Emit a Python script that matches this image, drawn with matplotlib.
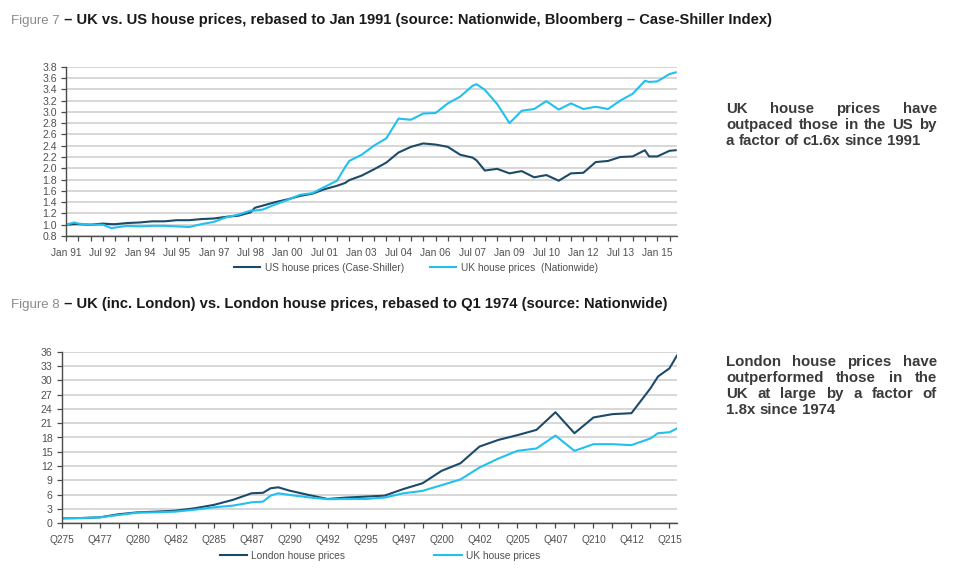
import numpy as np
import pandas as pd
import matplotlib
matplotlib.use('Agg')
import matplotlib.pyplot as plt

plt.rcParams['font.family'] = ['Liberation Sans', 'DejaVu Sans']

# Figure 7 data (rebased to Jan 1991)
us_uk_dates = ['1991-01', '1991-05', '1991-07', '1992-01', '1992-07', '1992-11', '1993-01',
               '1993-07', '1994-01', '1994-07', '1995-01', '1995-07', '1996-01', '1996-07',
               '1997-01', '1997-07', '1998-01', '1998-07', '1998-09', '1999-01', '1999-07',
               '2000-01', '2000-07', '2001-01', '2001-07', '2002-01', '2002-05', '2002-07',
               '2003-01', '2003-07', '2004-01', '2004-07', '2005-01', '2005-07', '2006-01',
               '2006-07', '2007-01', '2007-07', '2007-09', '2008-01', '2008-07', '2009-01',
               '2009-07', '2010-01', '2010-07', '2011-01', '2011-07', '2012-01', '2012-07',
               '2013-01', '2013-07', '2014-01', '2014-07', '2014-09', '2015-01', '2015-07',
               '2015-10']
us_prices = [1.00, 1.01, 1.01, 1.00, 1.02, 1.01, 1.01,
             1.03, 1.04, 1.06, 1.06, 1.08, 1.08, 1.10,
             1.11, 1.14, 1.16, 1.22, 1.30, 1.34, 1.40,
             1.45, 1.51, 1.55, 1.63, 1.69, 1.74, 1.79,
             1.87, 1.98, 2.10, 2.28, 2.38, 2.44, 2.42,
             2.38, 2.24, 2.19, 2.14, 1.96, 1.99, 1.91,
             1.95, 1.84, 1.88, 1.78, 1.91, 1.92, 2.11,
             2.13, 2.20, 2.21, 2.32, 2.21, 2.21, 2.31,
             2.32]
uk_prices = [1.00, 1.04, 1.02, 1.00, 1.00, 0.94, 0.95,
             0.98, 0.97, 0.98, 0.98, 0.97, 0.96, 1.01,
             1.05, 1.13, 1.18, 1.25, 1.25, 1.27, 1.36,
             1.44, 1.53, 1.56, 1.67, 1.78, 2.02, 2.13,
             2.24, 2.40, 2.53, 2.88, 2.86, 2.97, 2.98,
             3.15, 3.27, 3.46, 3.49, 3.39, 3.14, 2.80,
             3.02, 3.05, 3.19, 3.04, 3.15, 3.05, 3.09,
             3.05, 3.20, 3.32, 3.55, 3.53, 3.54, 3.67,
             3.70]

# Figure 8 data (quarters counted from Q2 1975)
quarters = [0, 5, 10, 15, 20, 25, 30, 35, 40, 45, 50, 53, 55, 57, 60, 65, 70, 75, 80,
            85, 90, 95, 100, 105, 110, 115, 120, 125, 130, 135, 140, 145, 150, 155, 157,
            160, 162]
london = [1.05, 1.10, 1.25, 1.90, 2.30, 2.45, 2.65, 3.15, 3.85, 4.90, 6.30, 6.40, 7.35,
          7.55, 6.85, 5.95, 5.10, 5.40, 5.60, 5.80, 7.20, 8.40, 11.0, 12.6, 16.1, 17.5,
          18.5, 19.6, 23.3, 18.9, 22.2, 22.9, 23.1, 28.3, 30.8, 32.5, 35.2]
uk_all = [1.05, 1.10, 1.25, 1.75, 2.25, 2.30, 2.45, 2.85, 3.35, 3.70, 4.40, 4.55, 5.80,
          6.30, 5.95, 5.45, 5.05, 5.10, 5.10, 5.40, 6.30, 6.80, 8.00, 9.20, 11.7, 13.6,
          15.2, 15.7, 18.4, 15.2, 16.6, 16.6, 16.4, 17.8, 18.9, 19.1, 19.9]

titles = [('Figure 7', 'UK vs. US house prices, rebased to Jan 1991 (source: Nationwide, '
                       'Bloomberg \u2013 Case-Shiller Index)'),
          ('Figure 8', 'UK (inc. London) vs. London house prices, rebased to Q1 1974 '
                       '(source: Nationwide)')]
note7 = ['UK house prices have', 'outpaced those in the US by', 'a factor of c1.6x since 1991']
note8 = ['London house prices have', 'outperformed those in the', 'UK at large by a factor of',
         '1.8x since 1974']

DARK = '#1d4a69'
LIGHT = '#22c0ef'
GRID = '#d4d4d4'
AXIS = '#4a4a4a'
TXT = '#505050'
W, H = 960, 579

fig = plt.figure(figsize=(9.6, 5.79), dpi=100)
renderer = fig.canvas.get_renderer()


def style_axes(ax):
    for s in ['top', 'right']:
        ax.spines[s].set_visible(False)
    for s in ['left', 'bottom']:
        ax.spines[s].set_color(AXIS)
        ax.spines[s].set_linewidth(1.0)
    ax.yaxis.grid(True, color=GRID, lw=1.3)
    ax.set_axisbelow(True)
    ax.tick_params(axis='both', which='both', direction='out', length=3.5, width=0.9,
                   color=AXIS, labelsize=7.3, labelcolor=TXT)
    ax.tick_params(axis='y', labelsize=7.6, pad=3)
    ax.tick_params(axis='x', pad=5)


# ---- Figure 7 ----
ax1 = fig.add_axes([66 / W, 1 - 236 / H, 611 / W, 169.3 / H])
d1 = pd.to_datetime(us_uk_dates)
ax1.plot(d1, us_prices, color=DARK, lw=1.5, label='US house prices (Case-Shiller)')
ax1.plot(d1, uk_prices, color=LIGHT, lw=1.5, label='UK house prices  (Nationwide)')
ax1.set_ylim(0.8, 3.8)
yt = np.arange(0.8, 3.81, 0.2)
ax1.set_yticks(yt)
ax1.set_yticklabels([f'{v:.1f}' for v in yt])
ax1.set_xlim(pd.Timestamp('1991-01-01'), pd.Timestamp('2015-10-20'))
major1 = pd.date_range('1991-01-01', '2015-01-01', freq='18MS')
ax1.set_xticks(major1)
ax1.set_xticklabels([d.strftime('%b %y') for d in major1])
ax1.set_xticks(pd.date_range('1991-01-01', '2015-10-01', freq='6MS'), minor=True)
style_axes(ax1)
ax1.legend(loc='center', bbox_to_anchor=(416 / W, 1 - 268 / H), bbox_transform=fig.transFigure,
           ncol=2, frameon=False, fontsize=7.3, handlelength=2.5, handletextpad=0.5,
           columnspacing=2.6, labelcolor=TXT)

# ---- Figure 8 ----
ax2 = fig.add_axes([61.7 / W, 1 - 523.3 / H, 615.3 / W, 171.6 / H])
yrs = 1975.25 + np.array(quarters) / 4
ax2.plot(yrs, london, color=DARK, lw=1.5, label='London house prices')
ax2.plot(yrs, uk_all, color=LIGHT, lw=1.5, label='UK house prices')
ax2.set_ylim(0, 36)
ax2.set_yticks(np.arange(0, 37, 3))
ax2.set_xlim(1975.25, 1975.25 + 162 / 4)
major2 = np.arange(1975.25, 2015.3, 2.5)
ax2.set_xticks(major2)
ax2.set_xticklabels([f'Q{int(round((t % 1) * 4)) + 1}{int(t) % 100:02d}' for t in major2])
ax2.set_xticks(np.arange(1975.25, 2015.8, 1.25), minor=True)
style_axes(ax2)
ax2.legend(loc='center', bbox_to_anchor=(380 / W, 1 - 556 / H), bbox_transform=fig.transFigure,
           ncol=2, frameon=False, fontsize=7.3, handlelength=2.7, handletextpad=0.4,
           columnspacing=8.8, labelcolor=TXT)

# ---- titles: grey figure number followed by bold caption ----
for y_px, (fig_no, caption) in zip([24, 308], titles):
    t = fig.text(11 / W, 1 - y_px / H, fig_no, fontsize=9.5, color='#8a8a8a', va='baseline')
    x_end = t.get_window_extent(renderer).x1
    fig.text(x_end / W, 1 - y_px / H, ' \u2013 ' + caption, fontsize=10.6, fontweight='bold',
             color='#1a1a1a', va='baseline')

# ---- side notes, justified ----
BODY = dict(fontsize=10.8, fontweight='bold', color='#3a3a3a', va='center')


def note(lines, justify, x0, x1, ytop, dy):
    a = fig.text(0, 0, 'a a', **BODY)
    b = fig.text(0, 0, 'aa', **BODY)
    sp = a.get_window_extent(renderer).width - b.get_window_extent(renderer).width
    a.remove()
    b.remove()
    for i, (line, jf) in enumerate(zip(lines, justify)):
        y = 1 - (ytop + i * dy) / H
        words = line.split()
        ts = [fig.text(0, y, w, **BODY) for w in words]
        ws = [t.get_window_extent(renderer).width for t in ts]
        gap = (x1 - x0 - sum(ws)) / (len(words) - 1) if jf else sp
        x = x0
        for t, w in zip(ts, ws):
            t.set_x(x / W)
            x += w + gap


note(note7, [True, True, False], 726, 937, 109, 16.2)
note(note8, [True, True, True, False], 726, 937, 362, 16.0)

fig.savefig('out.png', dpi=100, facecolor='white')
